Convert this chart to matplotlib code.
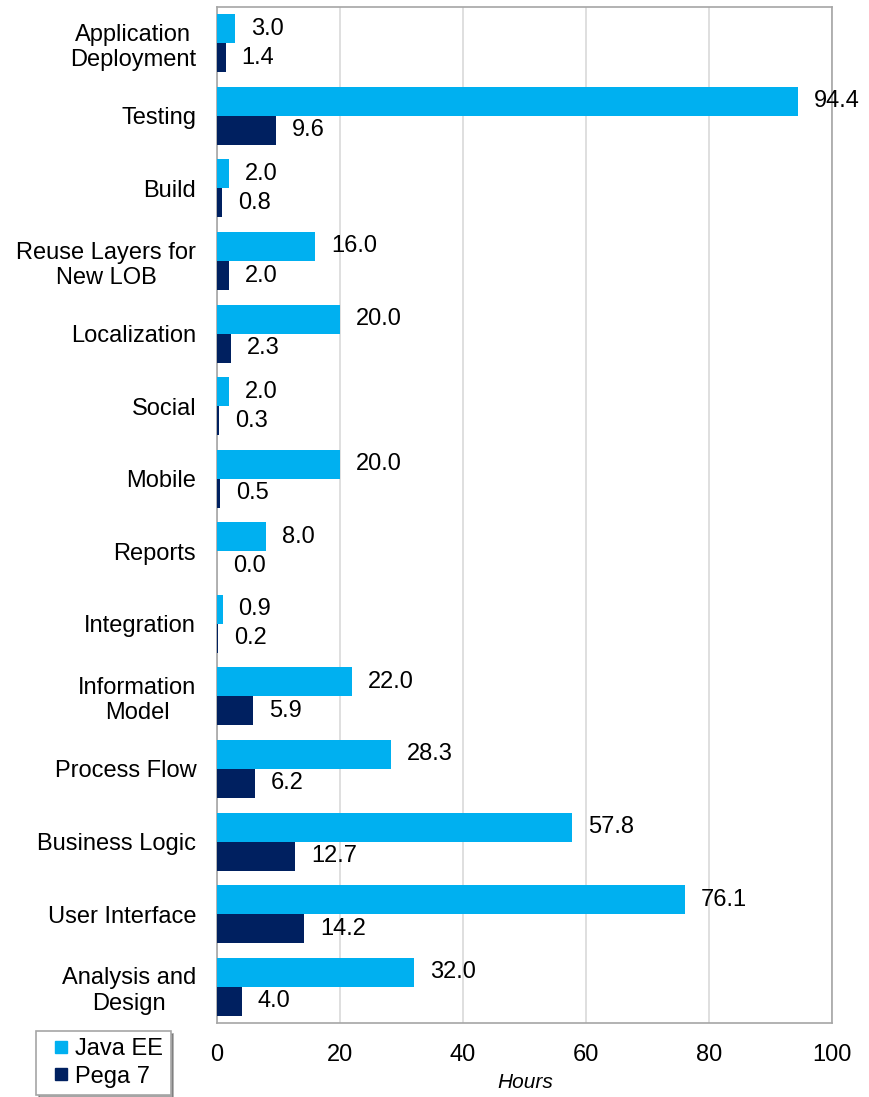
import matplotlib.pyplot as plt
from matplotlib.lines import Line2D
import numpy as np

plt.rcParams['font.family'] = ['Liberation Sans', 'DejaVu Sans']

categories = ["Analysis and\nDesign", "User Interface", "Business Logic", "Process Flow",
              "Information\nModel", "Integration", "Reports", "Mobile", "Social",
              "Localization", "Reuse Layers for\nNew LOB", "Build", "Testing",
              "Application\nDeployment"]
java_ee = [32.0, 76.1, 57.8, 28.3, 22.0, 0.9, 8.0, 20.0, 2.0, 20.0, 16.0, 2.0, 94.4, 3.0]
pega_7 = [4.0, 14.2, 12.7, 6.2, 5.9, 0.2, 0.0, 0.5, 0.3, 2.3, 2.0, 0.8, 9.6, 1.4]
xticks = [0, 20, 40, 60, 80, 100]

java_color = '#00B0F0'
pega_color = '#002060'
fs = 17

fig = plt.figure(figsize=(8.69, 10.97), dpi=100)
ax = fig.add_axes([0.2497, 0.0675, 0.7077, 0.9261])

y = np.arange(len(categories))
h = 0.4
b1 = ax.barh(y + h / 2, java_ee, height=h, color=java_color, zorder=3)
b2 = ax.barh(y - h / 2, pega_7, height=h, color=pega_color, zorder=3)

for bars, vals in ((b1, java_ee), (b2, pega_7)):
    for bar, v in zip(bars, vals):
        ax.annotate(f"{v:.1f}", (v, bar.get_y() + bar.get_height() / 2),
                    xytext=(16, 0), textcoords='offset pixels',
                    va='center', ha='left', fontsize=fs, color='black', zorder=4)

ax.set_xlim(0, 100)
ax.set_ylim(-0.5, len(categories) - 0.5)
ax.set_xticks(xticks)
ax.set_xticklabels([str(t) for t in xticks], fontsize=fs)
ax.set_yticks(y)
ax.set_yticklabels(categories, fontsize=fs, multialignment='center')
ax.tick_params(axis='both', length=0)
ax.tick_params(axis='x', pad=15)
ax.tick_params(axis='y', pad=15)
ax.grid(axis='x', color='#D9D9D9', linewidth=1.2, zorder=0)
for s in ax.spines.values():
    s.set_color('#A6A6A6')
    s.set_linewidth(1.2)

fig.text(0.604, 0.013, "Hours", fontsize=15, style='italic', ha='center', va='center')

handles = [Line2D([], [], linestyle='none', marker='s', markersize=8.5,
                  markerfacecolor=java_color, markeredgecolor=java_color, label='Java EE'),
           Line2D([], [], linestyle='none', marker='s', markersize=8.5,
                  markerfacecolor=pega_color, markeredgecolor=pega_color, label='Pega 7')]
leg = fig.legend(handles=handles, loc='lower left', bbox_to_anchor=(0.042, 0.002),
                 fontsize=fs, frameon=True, shadow=True, fancybox=False,
                 handlelength=1.5, handletextpad=-0.15,
                 labelspacing=0.25, borderpad=0.3, borderaxespad=0.0,
                 edgecolor='#A6A6A6')
leg.get_frame().set_linewidth(1.2)

fig.savefig('out.png', dpi=100)
